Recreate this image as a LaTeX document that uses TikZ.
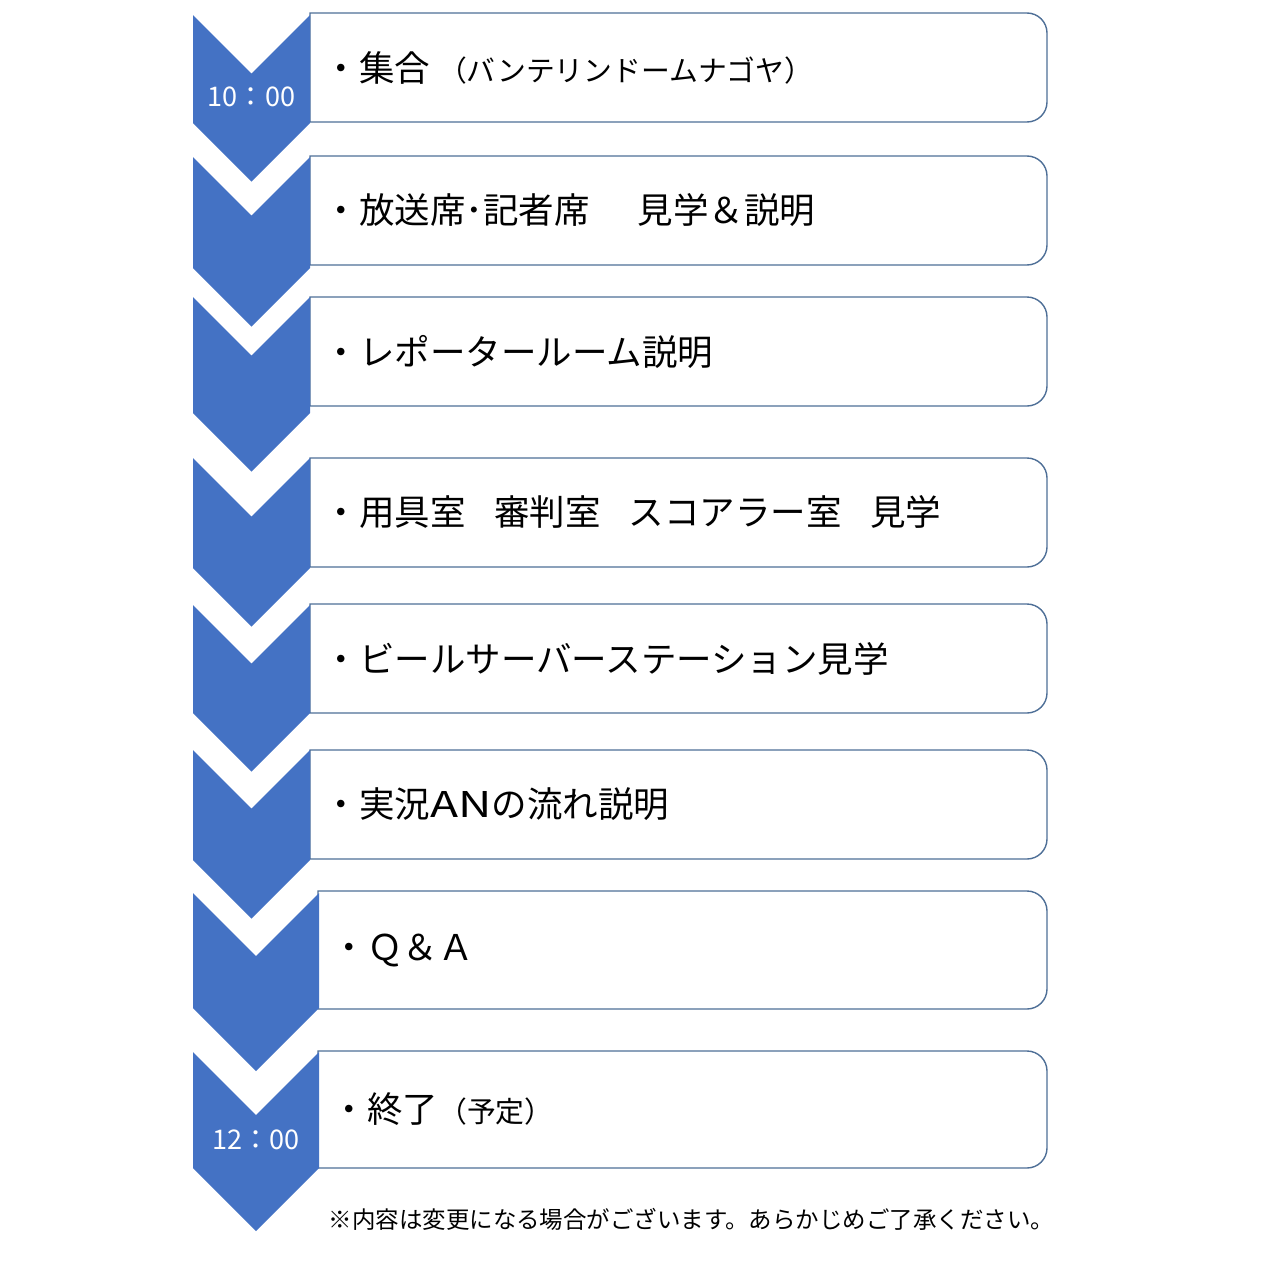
\documentclass[tikz,border=0pt]{standalone}
\usepackage{fontspec}
\setmainfont{Noto Sans CJK JP}
\usetikzlibrary{positioning}
\definecolor{chevblue}{HTML}{4472C4}
\definecolor{frameline}{HTML}{4E6F97}

\begin{document}
\begin{tikzpicture}[x=0.1mm, y=-0.1mm,
        chev/.style={fill=chevblue},
        stepframe/.style={draw=frameline, line width=0.4pt, fill=white},
        item/.style={anchor=west, inner sep=0pt, font=\fontsize{10.1pt}{12pt}\selectfont},
        clock/.style={text=white, inner sep=0pt, font=\fontsize{7.7pt}{9pt}\selectfont}]
        \useasboundingbox (0,0) rectangle (1280,1280);

        \draw[stepframe] (310,122) -- (310,13) [rounded corners=2mm] -- (1047,13) -- (1047,122) [sharp corners] -- (310,122) -- cycle;
        \draw[stepframe] (310,265) -- (310,156) [rounded corners=2mm] -- (1047,156) -- (1047,265) [sharp corners] -- (310,265) -- cycle;
        \draw[stepframe] (310,406) -- (310,297) [rounded corners=2mm] -- (1047,297) -- (1047,406) [sharp corners] -- (310,406) -- cycle;
        \draw[stepframe] (310,567) -- (310,458) [rounded corners=2mm] -- (1047,458) -- (1047,567) [sharp corners] -- (310,567) -- cycle;
        \draw[stepframe] (310,713) -- (310,604) [rounded corners=2mm] -- (1047,604) -- (1047,713) [sharp corners] -- (310,713) -- cycle;
        \draw[stepframe] (310,859) -- (310,750) [rounded corners=2mm] -- (1047,750) -- (1047,859) [sharp corners] -- (310,859) -- cycle;
        \draw[stepframe] (318,1009) -- (318,891) [rounded corners=2mm] -- (1047,891) -- (1047,1009) [sharp corners] -- (318,1009) -- cycle;
        \draw[stepframe] (318,1168) -- (318,1051) [rounded corners=2mm] -- (1047,1051) -- (1047,1168) [sharp corners] -- (318,1168) -- cycle;

        \fill[chev] (193,15) -- (251.5,73.5) -- (310,15) -- (310,123) -- (251.5,181.5) -- (193,123) -- cycle;
        \fill[chev] (193,157) -- (251.5,215.5) -- (310,157) -- (310,268) -- (251.5,326.5) -- (193,268) -- cycle;
        \fill[chev] (193,297) -- (251.5,355.5) -- (310,297) -- (310,413) -- (251.5,471.5) -- (193,413) -- cycle;
        \fill[chev] (193,458) -- (251.5,516.5) -- (310,458) -- (310,568) -- (251.5,626.5) -- (193,568) -- cycle;
        \fill[chev] (193,605) -- (251.5,663.5) -- (310,605) -- (310,713) -- (251.5,771.5) -- (193,713) -- cycle;
        \fill[chev] (193,750) -- (251.5,808.5) -- (310,750) -- (310,860) -- (251.5,918.5) -- (193,860) -- cycle;
        \fill[chev] (193,893) -- (256,956) -- (319,893) -- (319,1008) -- (256,1071) -- (193,1008) -- cycle;
        \fill[chev] (193,1052) -- (256,1115) -- (319,1052) -- (319,1168) -- (256,1231) -- (193,1168) -- cycle;

        \node[clock] (time1) at (251.5,97) {10：00};
        \node[clock] (time2) at (256,1140) {12：00};

        \node[item] (t1) at (323,67.5) {・集合 {\fontsize{8.2pt}{10pt}\selectfont （バンテリンドームナゴヤ）}};
        \node[item] (t2) at (323,210.5) {・放送席･記者席\hspace{1.35em}見学＆説明};
        \node[item] (t3) at (323,351.5) {・レポータールーム説明};
        \node[item] (t4) at (323,512.5) {・用具室\hspace{0.8em}審判室\hspace{0.8em}スコアラー室\hspace{0.8em}見学};
        \node[item] (t5) at (323,658.5) {・ビールサーバーステーション見学};
        \node[item] (t6) at (323,804.5) {・実況{\addfontfeatures{FakeStretch=1.3}AN}の流れ説明};
        \node[item] (t7) at (331,950) {・Ｑ＆Ａ};
        \node[item] (t8) at (331,1109.5) {・終了{\fontsize{8.2pt}{10pt}\selectfont （予定）}};

        \node[anchor=west, inner sep=0pt, font=\fontsize{6.68pt}{8pt}\selectfont] (note) at (328,1219) {※内容は変更になる場合がございます。あらかじめご了承ください。};
\end{tikzpicture}
\end{document}
